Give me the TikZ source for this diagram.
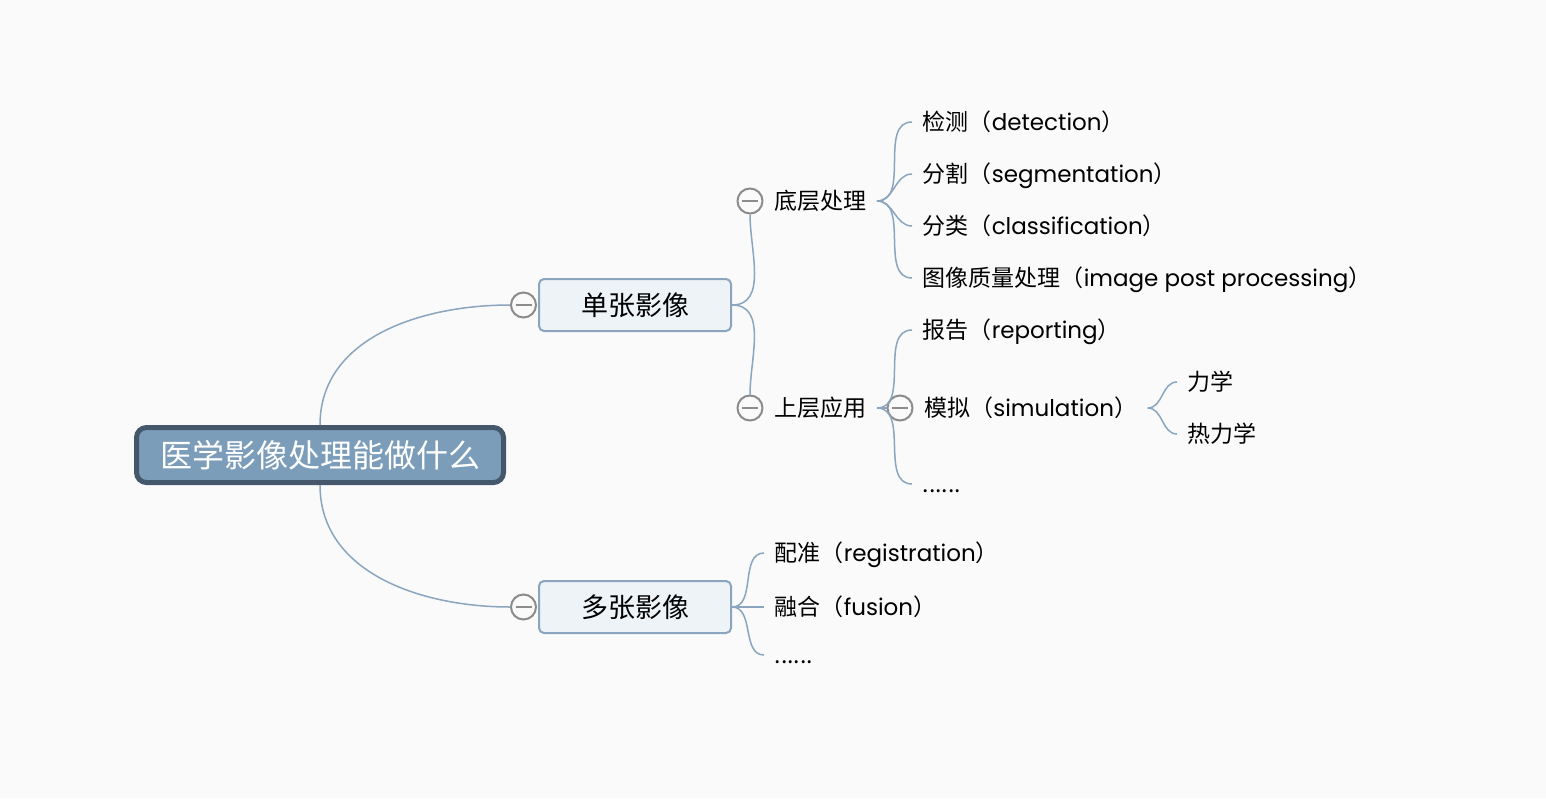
\documentclass[tikz,border=0pt]{standalone}
\usepackage{fontspec}
\setmainfont{Noto Sans CJK SC}
\newfontfamily\lat{Poppins}
\usetikzlibrary{positioning}
\definecolor{bgcolor}{HTML}{FAFAFA}
\definecolor{linecolor}{HTML}{8AA5BD}
\definecolor{rootfill}{HTML}{7B9DBA}
\definecolor{rootdraw}{HTML}{45586B}
\definecolor{boxfill}{HTML}{EEF3F8}
\definecolor{foldcolor}{HTML}{8C8C8C}

\begin{document}
\begin{tikzpicture}[x=1pt,y=-1pt,line width=1.5pt]
 \tikzstyle{branch}=[draw=linecolor,line width=1.5pt,out=0,in=180]
 \tikzstyle{leaf node}=[inner xsep=10pt,inner ysep=2pt,text height=19pt,text depth=3pt,font=\fontsize{23pt}{27pt}\selectfont]
 \tikzset{
 	root node/.style={rectangle,rounded corners=10pt,draw=rootdraw,line width=5pt,fill=rootfill,text=white,
 	  minimum width=367pt,minimum height=55pt,font=\fontsize{32pt}{36pt}\selectfont},
 	main node/.style={rectangle,rounded corners=5pt,draw=linecolor,line width=2pt,fill=boxfill,
 	  minimum width=192pt,minimum height=52pt,font=\fontsize{27pt}{31pt}\selectfont},
 	fold node/.style={circle,draw=foldcolor,line width=2pt,fill=bgcolor,minimum size=25pt,inner sep=0pt,
 	  path picture={\draw[foldcolor,line width=2pt] ([xshift=-8pt]path picture bounding box.center) -- ([xshift=8pt]path picture bounding box.center);}}
 }

 \fill[bgcolor] (0,0) rectangle (1546,798);
 \useasboundingbox (0,0) rectangle (1546,798);

       \node[root node] (root) at (320,455) {医学影像处理能做什么};

       \node[main node] (single) at (635,305) {单张影像};
       \node[main node] (multi) at (635,607) {多张影像};
       \node[fold node] (fs) [left=1pt of single] {};
       \node[fold node] (fm) [left=1pt of multi] {};

       \node[fold node] (flow) at (750,201) {};
       \node[fold node] (fhigh) at (750,408) {};
       \node[leaf node] (low) [right=0pt of flow] {底层处理};
       \node[leaf node] (high) [right=0pt of fhigh] {上层应用};

       \node[leaf node,anchor=west] (det) at (912,122) {检测（{\lat detection}）};
       \node[leaf node,anchor=west] (seg) at (912,174) {分割（{\lat segmentation}）};
       \node[leaf node,anchor=west] (cls) at (912,226) {分类（{\lat classification}）};
       \node[leaf node,anchor=west] (qual) at (912,278) {图像质量处理（{\lat image post processing}）};

       \node[leaf node,anchor=west] (rep) at (912,330) {报告（{\lat reporting}）};
       \node[fold node] (fsim) at (900,408) {};
       \node[leaf node] (sim) [right=0pt of fsim] {模拟（{\lat simulation}）};
       \node[leaf node,anchor=west] (more) at (912,484) {......};

       \node[leaf node,anchor=west] (mech) at (1177,382) {力学};
       \node[leaf node,anchor=west] (thermo) at (1177,434) {热力学};

       \node[leaf node,anchor=west] (reg) at (764,553) {配准（{\lat registration}）};
       \node[leaf node,anchor=west] (fus) at (764,607) {融合（{\lat fusion}）};
       \node[leaf node,anchor=west] (more2) at (764,655) {......};

     \path[branch] (root.north) edge[out=90] (fs.west);
     \path[branch] (root.south) edge[out=-90] (fm.west);

     \path[branch] (single.east) edge[in=-90] (flow.south);
     \path[branch] (single.east) edge[in=90] (fhigh.north);

     \path[branch] (low.east) edge (det.west);
     \path[branch] (low.east) edge (seg.west);
     \path[branch] (low.east) edge (cls.west);
     \path[branch] (low.east) edge (qual.west);

     \path[branch] (high.east) edge (rep.west);
     \path[branch] (high.east) edge (fsim.west);
     \path[branch] (high.east) edge (more.west);

     \path[branch] (sim.east) edge (mech.west);
     \path[branch] (sim.east) edge (thermo.west);

     \path[branch] (multi.east) edge (reg.west);
     \path[branch] (multi.east) edge (fus.west);
     \path[branch] (multi.east) edge (more2.west);
 \end{tikzpicture}
\end{document}
